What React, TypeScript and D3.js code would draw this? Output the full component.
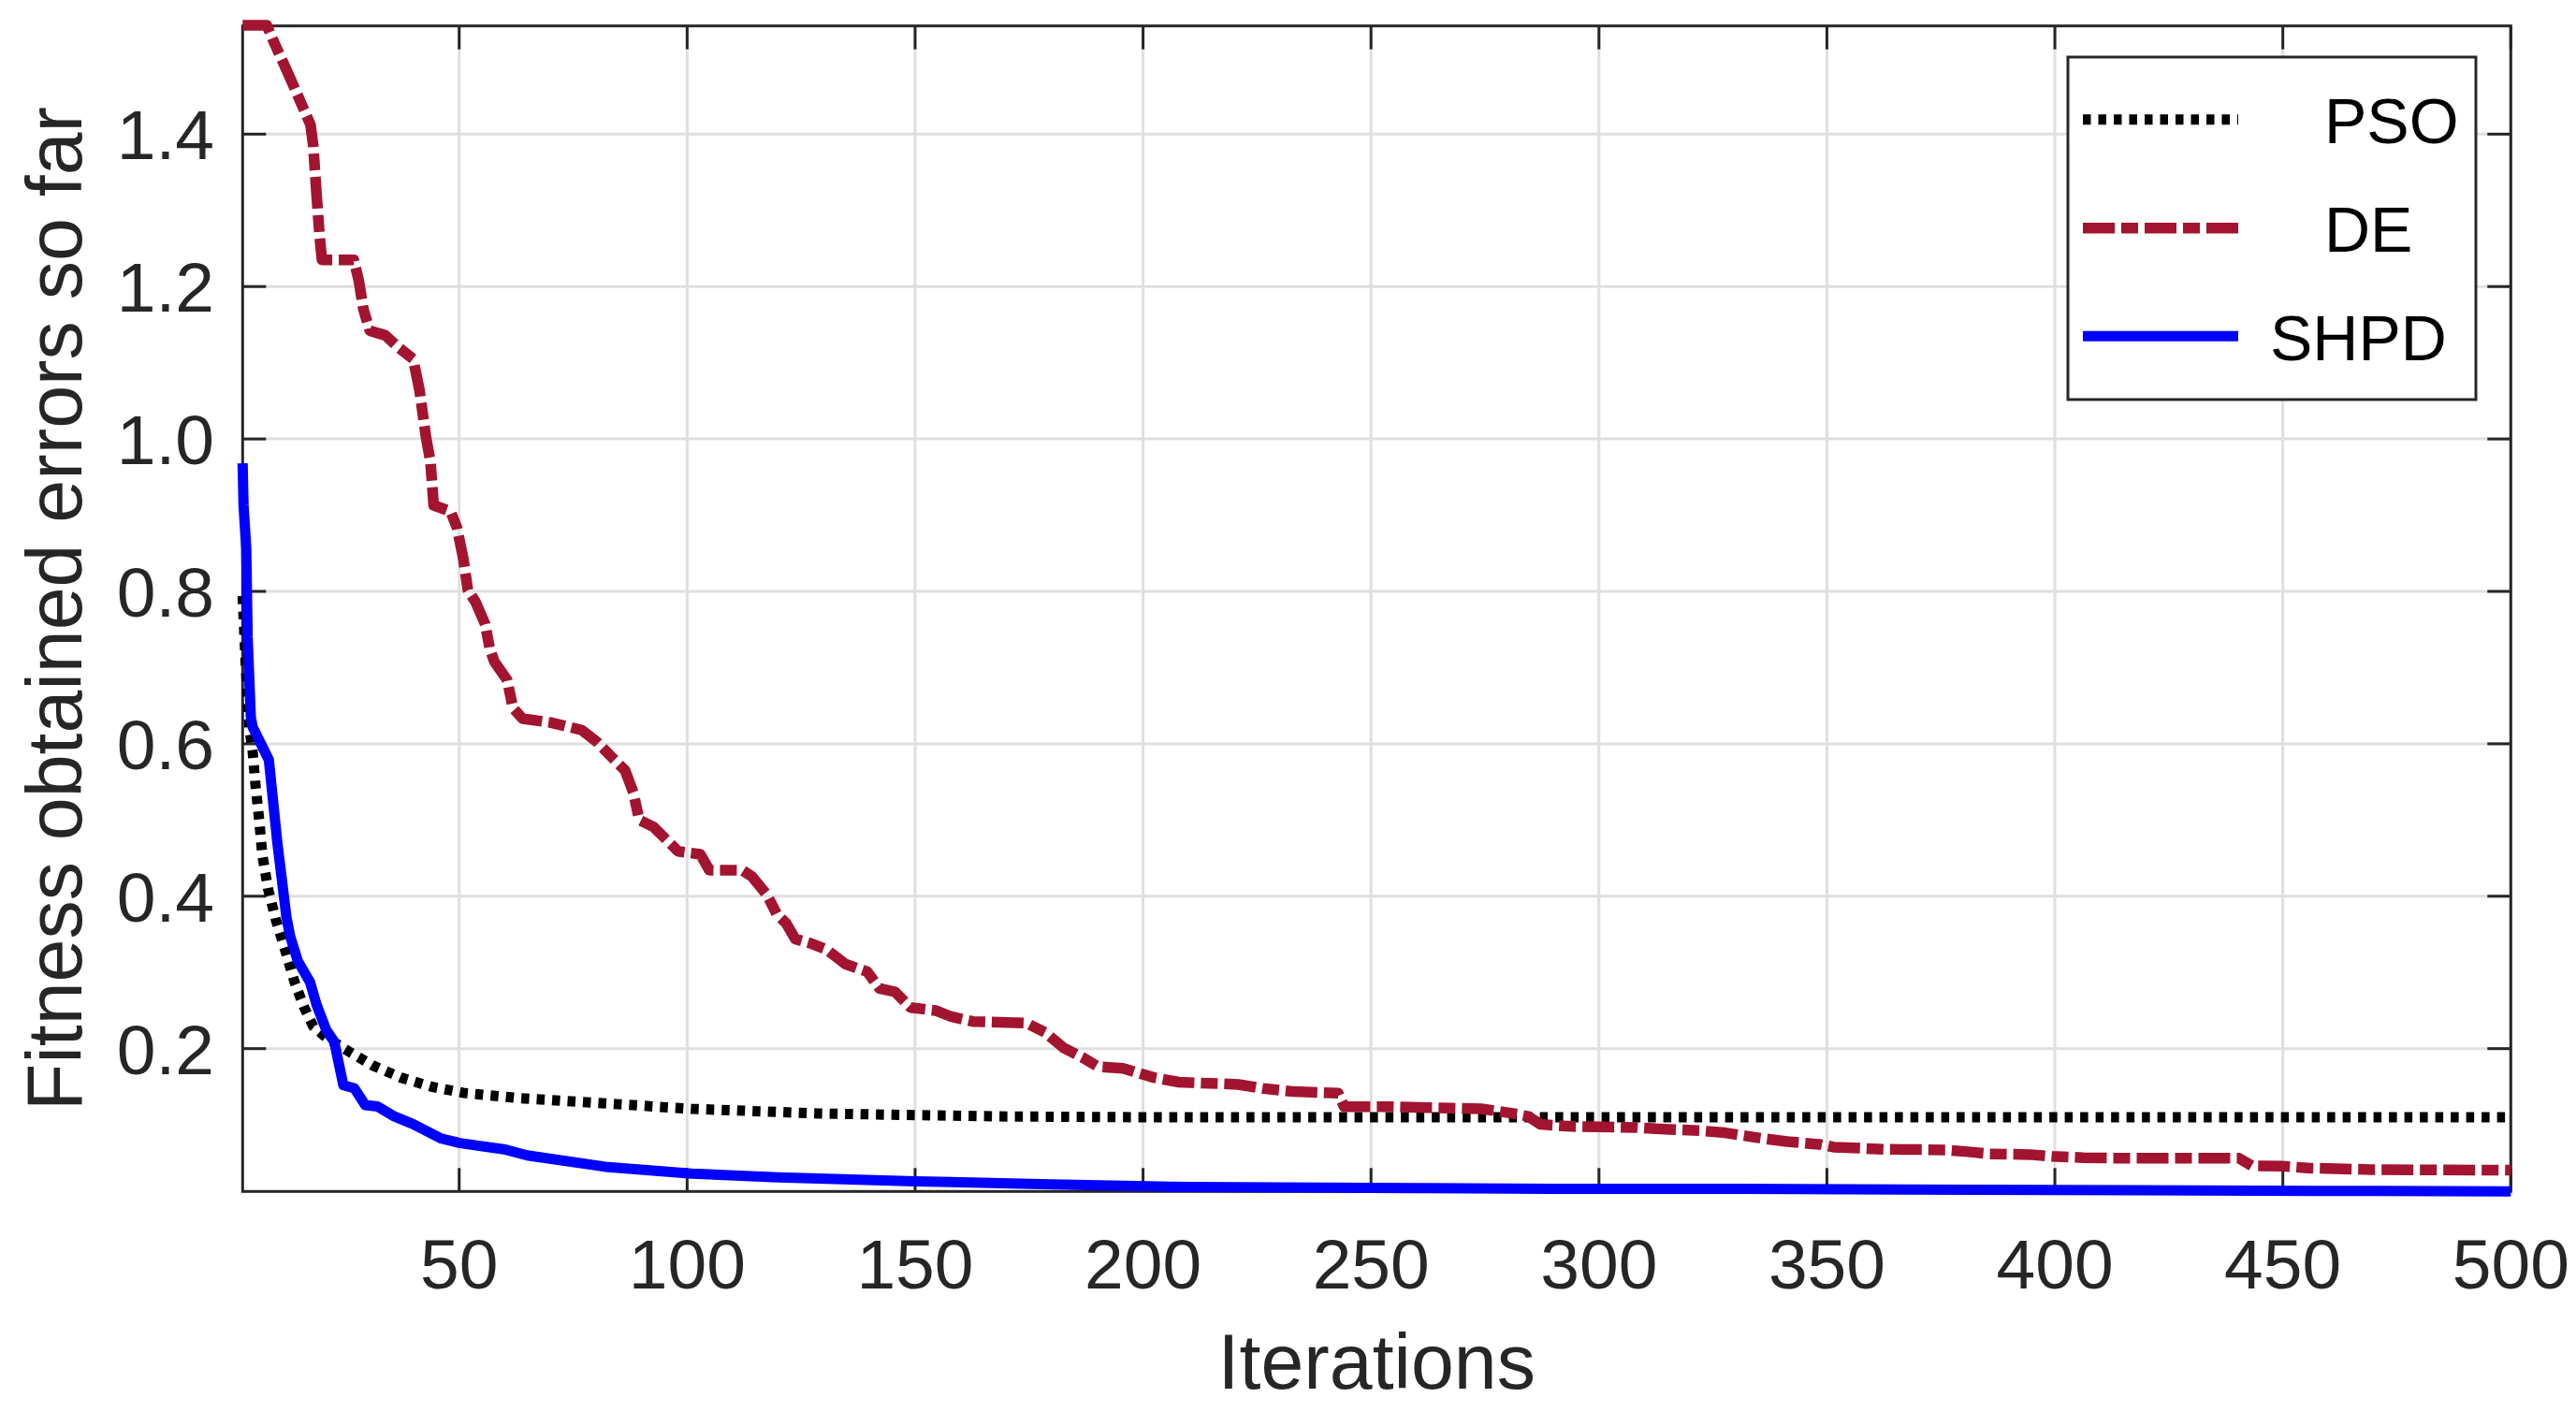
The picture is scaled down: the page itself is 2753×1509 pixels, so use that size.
import React, { useEffect } from "react";
import * as d3 from "d3";

// ---------------- data ----------------
const seriesNames = ["PSO", "DE", "SHPD"];

const psoIter = [2.5, 3.2, 4.0, 4.7, 5.3, 6.2, 6.8, 8.1, 9.8, 11.9, 13.9, 16, 18, 20.8, 25.6, 31, 37.2, 44, 50.9, 63.2, 85, 101, 128.5, 148, 170, 200, 500];
const psoVal = [0.794, 0.70, 0.62, 0.59, 0.547, 0.496, 0.455, 0.409, 0.369, 0.328, 0.287, 0.254, 0.229, 0.215, 0.197, 0.178, 0.162, 0.150, 0.142, 0.135, 0.127, 0.121, 0.115, 0.113, 0.111, 0.110, 0.110];

const deIter = [2.5, 7.8, 9.2, 12.6, 15.3, 17.4, 18.0, 18.7, 19.4, 19.9, 26.9, 28, 29, 30.4, 33.8, 36.5, 39.9, 41.3, 42.7, 43.7, 44.4, 48.1, 49.5, 50.9, 51.9, 53.6, 55.7, 56.7, 57.7, 60.5, 61.8, 63.9, 70.0, 76.9, 80.3, 83.7, 86.4, 88.2, 89.5, 92.6, 96, 98, 102.9, 104.9, 112.1, 114.2, 117.6, 119.6, 121.7, 123.7, 127.2, 130.6, 134.7, 139.5, 142.2, 145.6, 149, 154.5, 157.9, 162.7, 174.4, 178.5, 182.6, 186.7, 190.1, 195.6, 199, 202.4, 207.9, 216.8, 220.9, 226.4, 233.2, 242.8, 244.1, 253.7, 267.4, 274.2, 281.1, 284.5, 287.2, 294.8, 308.4, 312.5, 322.1, 327.6, 335.8, 341.3, 348.8, 351.5, 362.5, 376.2, 380.9, 385.7, 394.6, 399.4, 406.3, 416.5, 440.4, 443.2, 449.9, 455.5, 469.2, 500];
const deVal = [1.543, 1.543, 1.523, 1.478, 1.441, 1.412, 1.384, 1.322, 1.265, 1.235, 1.235, 1.207, 1.170, 1.142, 1.136, 1.121, 1.105, 1.064, 1.003, 0.970, 0.913, 0.905, 0.884, 0.843, 0.802, 0.786, 0.757, 0.725, 0.708, 0.684, 0.647, 0.633, 0.628, 0.618, 0.602, 0.581, 0.565, 0.536, 0.500, 0.491, 0.471, 0.459, 0.455, 0.434, 0.434, 0.426, 0.401, 0.377, 0.3645, 0.344, 0.338, 0.330, 0.311, 0.301, 0.279, 0.2745, 0.254, 0.250, 0.242, 0.2356, 0.2336, 0.2214, 0.2009, 0.1886, 0.1763, 0.1742, 0.168, 0.162, 0.156, 0.154, 0.153, 0.1477, 0.1436, 0.1416, 0.1239, 0.1239, 0.1218, 0.121, 0.115, 0.111, 0.1006, 0.0977, 0.0966, 0.0948, 0.0924, 0.0896, 0.0822, 0.0781, 0.0740, 0.0708, 0.068, 0.0671, 0.0647, 0.0618, 0.061, 0.0586, 0.0569, 0.0561, 0.0561, 0.0462, 0.0458, 0.0433, 0.0413, 0.0405];

const shpdIter = [2.5, 2.7, 3.3, 3.6, 4.3, 4.7, 8.25, 10.1, 12.1, 12.9, 14.6, 17.3, 18.7, 20.8, 22.6, 24.6, 27, 29.4, 32.1, 35.8, 39.9, 46.1, 50.2, 59.8, 64.9, 82, 101, 120, 150, 180, 206, 230, 260, 290, 331, 382, 457, 500];
const shpdVal = [0.968, 0.913, 0.856, 0.74, 0.635, 0.622, 0.579, 0.471, 0.373, 0.348, 0.315, 0.287, 0.258, 0.225, 0.209, 0.152, 0.148, 0.126, 0.124, 0.111, 0.101, 0.082, 0.076, 0.068, 0.060, 0.045, 0.036, 0.031, 0.026, 0.022, 0.0188, 0.0178, 0.017, 0.016, 0.0159, 0.0147, 0.0134, 0.0126];

const xTicks = [50, 100, 150, 200, 250, 300, 350, 400, 450, 500];
const yTicks = [0.2, 0.4, 0.6, 0.8, 1.0, 1.2, 1.4];

const xLabel = "Iterations";
const yLabel = "Fitness obtained errors so far";

// ---------------- layout / style ----------------
const W = 2753;
const H = 1509;
const plot = { left: 259.3, right: 2683.3, top: 27.7, bottom: 1273.3 };
const xDomain = [2.5, 500];
const yDomain = [0.0126, 1.542];
const FONT = "'Liberation Sans', Arial, Helvetica, sans-serif";
const AXIS_COLOR = "#262626";
const GRID_COLOR = "#dfdfdf";
const TICK_LEN = 25;

const styles = [
  { color: "#000000", dash: "8.5 8", width: 11 },
  { color: "#A2142F", dash: "34 7 18 7", width: 11.5 },
  { color: "#0000FF", dash: null as string | null, width: 11 },
];

export default function App() {
  useEffect(() => {
    document.body.style.margin = "0";
    document.body.style.overflow = "hidden";
  }, []);

  const x = d3.scaleLinear().domain(xDomain).range([plot.left, plot.right]);
  const y = d3.scaleLinear().domain(yDomain).range([plot.bottom, plot.top]);

  const line = d3
    .line<[number, number]>()
    .x((d) => x(d[0]))
    .y((d) => y(d[1]));

  const series = [
    d3.zip(psoIter, psoVal) as [number, number][],
    d3.zip(deIter, deVal) as [number, number][],
    d3.zip(shpdIter, shpdVal) as [number, number][],
  ];

  const legend = {
    left: 2210,
    right: 2646,
    top: 61,
    bottom: 427,
    lineX0: 2226,
    lineX1: 2392,
    rows: [
      { y: 127.7, textX: 2484, baseline: 153 },
      { y: 243.7, textX: 2484, baseline: 269 },
      { y: 359.3, textX: 2426, baseline: 385 },
    ],
  };

  return (
    <svg
      width={W}
      height={H}
      viewBox={`0 0 ${W} ${H}`}
      style={{ position: "absolute", left: 0, top: 0, background: "#fff" }}
    >
      <rect x={0} y={0} width={W} height={H} fill="#fff" />

      {/* grid */}
      <g stroke={GRID_COLOR} strokeWidth={3}>
        {xTicks.map((t) => (
          <line key={"gx" + t} x1={x(t)} x2={x(t)} y1={plot.top} y2={plot.bottom} />
        ))}
        {yTicks.map((t) => (
          <line key={"gy" + t} x1={plot.left} x2={plot.right} y1={y(t)} y2={y(t)} />
        ))}
      </g>

      {/* ticks (inward, all four sides) */}
      <g stroke={AXIS_COLOR} strokeWidth={3}>
        {xTicks.map((t) => (
          <g key={"tx" + t}>
            <line x1={x(t)} x2={x(t)} y1={plot.bottom} y2={plot.bottom - TICK_LEN} />
            <line x1={x(t)} x2={x(t)} y1={plot.top} y2={plot.top + TICK_LEN} />
          </g>
        ))}
        {yTicks.map((t) => (
          <g key={"ty" + t}>
            <line x1={plot.left} x2={plot.left + TICK_LEN} y1={y(t)} y2={y(t)} />
            <line x1={plot.right} x2={plot.right - TICK_LEN} y1={y(t)} y2={y(t)} />
          </g>
        ))}
      </g>

      {/* box */}
      <rect
        x={plot.left}
        y={plot.top}
        width={plot.right - plot.left}
        height={plot.bottom - plot.top}
        fill="none"
        stroke={AXIS_COLOR}
        strokeWidth={3}
      />

      {/* tick labels */}
      <g fontFamily={FONT} fontSize={75} fill={AXIS_COLOR}>
        {xTicks.map((t) => (
          <text key={"lx" + t} x={x(t)} y={1377} textAnchor="middle">
            {t}
          </text>
        ))}
        {yTicks.map((t) => (
          <text key={"ly" + t} x={229} y={y(t) + 27} textAnchor="end">
            {t.toFixed(1)}
          </text>
        ))}
      </g>

      {/* axis labels */}
      <text
        x={(plot.left + plot.right) / 2}
        y={1484}
        textAnchor="middle"
        fontFamily={FONT}
        fontSize={82.5}
        fill={AXIS_COLOR}
      >
        {xLabel}
      </text>
      <text
        transform={`translate(87, ${(plot.top + plot.bottom) / 2}) rotate(-90)`}
        textAnchor="middle"
        fontFamily={FONT}
        fontSize={82.5}
        fill={AXIS_COLOR}
      >
        {yLabel}
      </text>

      {/* data lines */}
      {series.map((s, i) => (
        <path
          key={"s" + i}
          d={line(s) || ""}
          fill="none"
          stroke={styles[i].color}
          strokeWidth={styles[i].width}
          strokeDasharray={styles[i].dash || undefined}
          strokeLinejoin="round"
          strokeLinecap="butt"
        />
      ))}

      {/* legend */}
      <rect
        x={legend.left}
        y={legend.top}
        width={legend.right - legend.left}
        height={legend.bottom - legend.top}
        fill="#fff"
        stroke={AXIS_COLOR}
        strokeWidth={3}
      />
      {legend.rows.map((r, i) => (
        <g key={"lg" + i}>
          <line
            x1={legend.lineX0}
            x2={legend.lineX1}
            y1={r.y}
            y2={r.y}
            stroke={styles[i].color}
            strokeWidth={styles[i].width}
            strokeDasharray={styles[i].dash || undefined}
            strokeLinecap="butt"
          />
          <text x={r.textX} y={r.baseline} fontFamily={FONT} fontSize={68} fill="#000">
            {seriesNames[i]}
          </text>
        </g>
      ))}
    </svg>
  );
}
